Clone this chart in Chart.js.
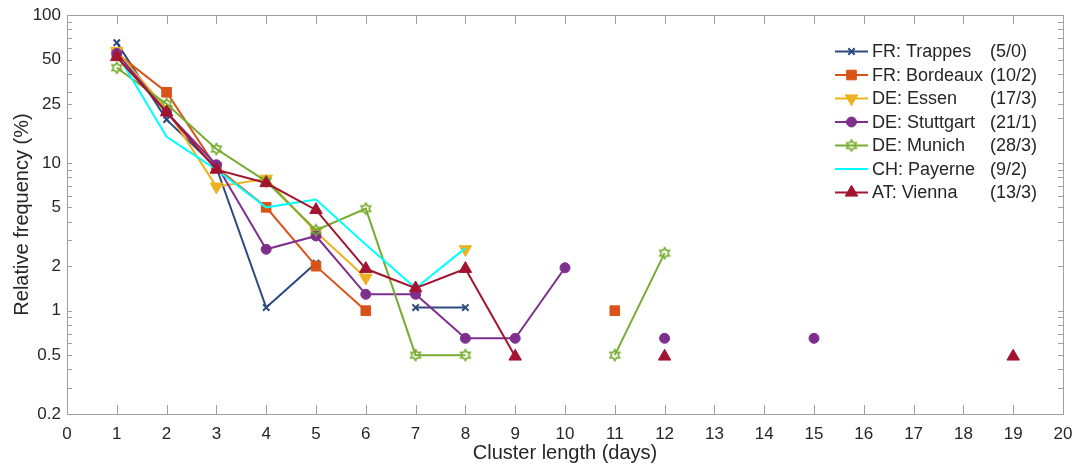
<!DOCTYPE html>
<html>
<head>
<meta charset="utf-8">
<script src="https://cdn.jsdelivr.net/npm/chart.js@4.4.1/dist/chart.umd.min.js"></script>
<style>
  html, body { margin: 0; padding: 0; background: #ffffff; }
  #wrap { width: 1072px; height: 472px; }
</style>
</head>
<body>
<div id="wrap"><canvas id="c" width="1072" height="472"></canvas></div>
<script>
// ---- data ----
const days = [1, 2, 3, 4, 5, 6, 7, 8, 9, 10, 11, 12, 13, 14, 15, 16, 17, 18, 19];
const trappes   = [65, 19.6, 9.3, 1.05, 2.1, null, 1.05, 1.05, null, null, null, null, null, null, null, null, null, null, null];
const bordeaux  = [55, 30, 9.3, 5.0, 2.0, 1.0, null, null, null, null, 1.0, null, null, null, null, null, null, null, null];
const essen     = [57, 23, 6.9, 7.8, 3.4, 1.67, null, 2.6, null, null, null, null, null, null, null, null, null, null, null];
const stuttgart = [55, 22, 9.7, 2.6, 3.2, 1.29, 1.29, 0.65, 0.65, 1.95, null, 0.65, null, null, 0.65, null, null, null, null];
const munich    = [44, 25, 12.4, 7.5, 3.5, 4.9, 0.5, 0.5, null, null, 0.5, 2.45, null, null, null, null, null, null, null];
const payerne   = [55, 15, 9.0, 5.0, 5.65, 2.8, 1.42, 2.65, null, null, null, null, null, null, null, null, null, null, null];
const vienna    = [52, 22, 9.0, 7.3, 4.8, 1.92, 1.42, 1.92, 0.49, null, null, 0.49, null, null, null, null, null, null, 0.49];

const stationNames  = ['FR: Trappes', 'FR: Bordeaux', 'DE: Essen', 'DE: Stuttgart', 'DE: Munich', 'CH: Payerne', 'AT: Vienna'];
const stationCounts = ['(5/0)', '(10/2)', '(17/3)', '(21/1)', '(28/3)', '(9/2)', '(13/3)'];

const yMajorTicks = [0.2, 0.5, 1, 2, 5, 10, 25, 50, 100];
const yMinorTicks = [0.3, 0.4, 0.6, 0.7, 0.8, 0.9, 3, 4, 6, 7, 8, 9, 20, 30, 40, 60, 70, 80, 90];
const xTicks = [0, 1, 2, 3, 4, 5, 6, 7, 8, 9, 10, 11, 12, 13, 14, 15, 16, 17, 18, 19, 20];

// ---- styles ----
const FONT = '"Liberation Sans", Arial, Helvetica, sans-serif';
const TEXT = '#262626';
const AXIS = '#a0a0a0';
const colors = ['#2c4a80', '#d95319', '#edb120', '#7e2f8e', '#77ac30', '#00ffff', '#a2142f'];

function hexagram(color) {
  const s = 16, c = document.createElement('canvas');
  c.width = s; c.height = s;
  const g = c.getContext('2d');
  const R = 5.5, r = R / Math.sqrt(3);
  g.beginPath();
  for (let i = 0; i < 12; i++) {
    const a = -Math.PI / 2 + i * Math.PI / 6;
    const rr = (i % 2 === 0) ? R : r;
    const px = s / 2 + rr * Math.cos(a), py = s / 2 + rr * Math.sin(a);
    if (i === 0) g.moveTo(px, py); else g.lineTo(px, py);
  }
  g.closePath();
  g.strokeStyle = color; g.lineWidth = 1.6; g.stroke();
  return c;
}

const series = [trappes, bordeaux, essen, stuttgart, munich, payerne, vienna];
const markers = [
  { pointStyle: 'crossRot', radius: 4.5, rotation: 0, bw: 2 },
  { pointStyle: 'rect', radius: 6.8, rotation: 0, bw: 1 },
  { pointStyle: 'triangle', radius: 7.2, rotation: 180, bw: 1 },
  { pointStyle: 'circle', radius: 5, rotation: 0, bw: 1 },
  { pointStyle: hexagram(colors[4]), radius: 6, rotation: 0, bw: 1 },
  { pointStyle: 'circle', radius: 0, rotation: 0, bw: 0 },
  { pointStyle: 'triangle', radius: 7.2, rotation: 0, bw: 1 }
];

const datasets = series.map((vals, i) => ({
  label: stationNames[i],
  data: days.map((d, k) => ({ x: d, y: vals[k] })),
  borderColor: colors[i],
  backgroundColor: colors[i],
  borderWidth: 2,
  pointStyle: markers[i].pointStyle,
  pointRadius: markers[i].radius,
  pointRotation: markers[i].rotation,
  pointBorderWidth: markers[i].bw,
  pointBackgroundColor: colors[i],
  pointBorderColor: colors[i],
  spanGaps: false,
  tension: 0,
  order: series.length - 1 - i
}));

const frameAndLegend = {
  id: 'frameAndLegend',
  afterDatasetsDraw(chart) {
    const { ctx, chartArea: a, scales: { x, y } } = chart;
    ctx.save();
    ctx.strokeStyle = AXIS;
    ctx.lineWidth = 1;
    ctx.strokeRect(Math.round(a.left) + 0.5, Math.round(a.top) + 0.5, Math.round(a.right - a.left), Math.round(a.bottom - a.top));
    ctx.beginPath();
    xTicks.forEach(v => {
      const px = Math.round(x.getPixelForValue(v)) + 0.5;
      ctx.moveTo(px, a.bottom); ctx.lineTo(px, a.bottom - 9);
      ctx.moveTo(px, a.top); ctx.lineTo(px, a.top + 9);
    });
    yMajorTicks.concat(yMinorTicks).forEach(v => {
      const py = Math.round(y.getPixelForValue(v)) + 0.5;
      ctx.moveTo(a.left, py); ctx.lineTo(a.left + 5, py);
      ctx.moveTo(a.right, py); ctx.lineTo(a.right - 5, py);
    });
    ctx.stroke();

    // legend
    const x0 = 835, x1 = 868, y0 = 51.5, dy = 23.5;
    ctx.font = '18px ' + FONT;
    ctx.textBaseline = 'middle';
    chart.data.datasets.forEach((ds, i) => {
      const yy = y0 + i * dy;
      ctx.strokeStyle = ds.borderColor;
      ctx.lineWidth = 2;
      ctx.beginPath(); ctx.moveTo(x0, yy); ctx.lineTo(x1, yy); ctx.stroke();
      if (markers[i].radius > 0) {
        ctx.fillStyle = ds.pointBackgroundColor;
        ctx.strokeStyle = ds.pointBorderColor;
        ctx.lineWidth = markers[i].bw;
        Chart.helpers.drawPoint(ctx, {
          pointStyle: markers[i].pointStyle,
          radius: markers[i].radius,
          rotation: markers[i].rotation,
          borderWidth: markers[i].bw
        }, (x0 + x1) / 2, yy);
      }
      ctx.fillStyle = TEXT;
      ctx.textAlign = 'left';
      ctx.fillText(stationNames[i], 872, yy + 1);
      ctx.fillText(stationCounts[i], 990, yy + 1);
    });
    ctx.restore();
  }
};

new Chart(document.getElementById('c'), {
  type: 'line',
  data: { datasets },
  options: {
    responsive: false,
    animation: false,
    devicePixelRatio: 1,
    layout: { padding: { top: 15, right: 9, left: 0, bottom: 0 } },
    plugins: { legend: { display: false }, tooltip: { enabled: false } },
    scales: {
      x: {
        type: 'linear',
        min: 0, max: 20,
        grid: { display: false, drawTicks: false },
        border: { display: false },
        afterBuildTicks(scale) { scale.ticks = xTicks.map(v => ({ value: v })); },
        afterFit(scale) { scale.height = 58; scale.paddingLeft = 0; scale.paddingRight = 0; },
        ticks: {
          autoSkip: false, maxRotation: 0, padding: 10,
          color: TEXT, font: { family: FONT, size: 17 },
          callback: v => String(v)
        },
        title: { display: true, text: 'Cluster length (days)', color: TEXT, font: { family: FONT, size: 20 }, padding: { bottom: 7, top: 0 } }
      },
      y: {
        type: 'logarithmic',
        min: 0.2, max: 100,
        grid: { display: false, drawTicks: false },
        border: { display: false },
        afterBuildTicks(scale) { scale.ticks = yMajorTicks.map(v => ({ value: v })); },
        afterFit(scale) { scale.width = 67; scale.paddingTop = 0; scale.paddingBottom = 0; },
        ticks: {
          autoSkip: false, padding: 6,
          color: TEXT, font: { family: FONT, size: 17 },
          callback: v => String(v)
        },
        title: { display: true, text: 'Relative frequency (%)', color: TEXT, font: { family: FONT, size: 20 }, padding: { top: 10, bottom: 0 } }
      }
    }
  },
  plugins: [frameAndLegend]
});
</script>
</body>
</html>
